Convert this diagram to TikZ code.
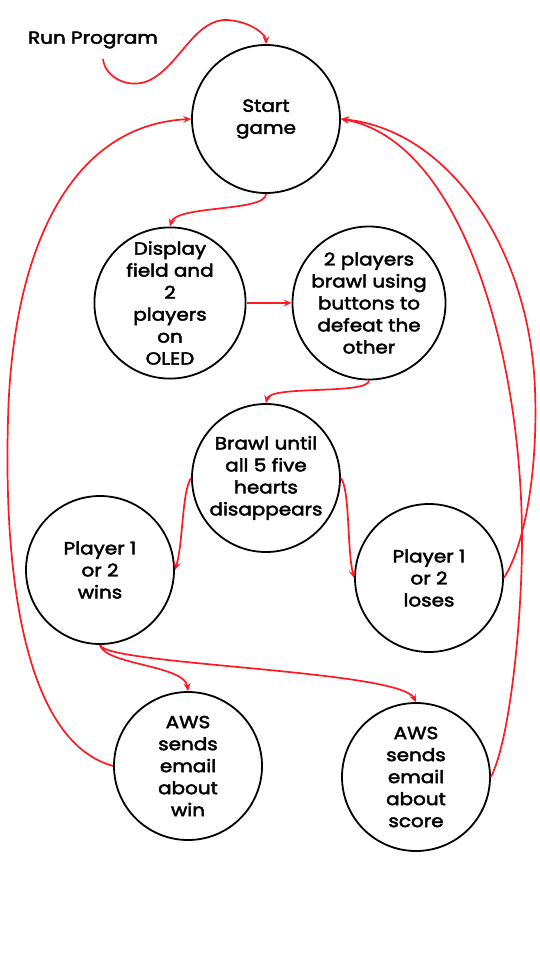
\documentclass[tikz,border=0pt]{standalone}
\usepackage{fontspec}
\setmainfont{Poppins}
\newfontfamily\diagfont{Poppins}[FakeStretch=1.14, FakeBold=2.6]
\usetikzlibrary{arrows.meta}
\definecolor{edgered}{RGB}{255,25,35}
\tikzset{
  state/.style={circle, draw=black, line width=1.8pt, minimum size=148pt, inner sep=0pt,
    align=center, font=\diagfont\fontsize{17.5}{22}\selectfont},
  flow/.style={draw=edgered, line width=1.7pt, -{Stealth[length=8pt,width=7pt,inset=3pt]}},
}
\begin{document}
\begin{tikzpicture}[x=1pt,y=-1pt]
\useasboundingbox (0,0) rectangle (540,960);
\fill[white] (0,0) rectangle (540,960);
\node[font=\diagfont\fontsize{17.5}{22}\selectfont] (run) at (93,40) {Run Program};
\coordinate (runfoot) at (103,59);
\node[state] (start) at (266,119) {Start\\game};
\node[state] (disp) at (170,303) {Display\\field and\\2\\players\\on\\OLED};
\node[state] (fight) at (369,303) {2 players\\brawl using\\buttons to\\defeat the\\other};
\node[state] (until) at (266,478) {Brawl until\\all 5 five\\hearts\\disappears};
\node[state] (wins) at (100,570) {Player 1\\or 2\\wins};
\node[state] (loses) at (429,578) {Player 1\\or 2\\loses};
\node[state] (awswin) at (188,766) {AWS\\sends\\email\\about\\win};
\node[state] (awsscore) at (416,777) {AWS\\sends\\email\\about\\score};

\draw[flow] (runfoot) .. controls (105,78) and (130,90) .. (150,80)
  .. controls (180,65) and (195,18) .. (228,20)
  .. controls (252,22) and (266,35) .. (start.north);
\draw[flow] (start.south) .. controls (266,212) and (176,205) .. (disp.north);
\draw[flow] (disp.east) -- (fight.west);
\draw[flow] (fight.south) .. controls (369,395) and (270,385) .. (until.north);
\draw[flow] (until.west) .. controls (182,490) and (183,545) .. (wins.east);
\draw[flow] (until.east) .. controls (350,490) and (347,550) .. (loses.west);
\draw[flow] (wins.south) .. controls (105,665) and (185,665) .. (awswin.north);
\draw[flow] (wins.south) .. controls (105,665) and (400,670) .. (awsscore.north);
\draw[flow] (awswin.west) .. controls (20,740) and (4,560) .. (8,420)
  .. controls (12,250) and (70,125) .. (start.west);
\draw[flow] (loses.east) .. controls (525,545) and (538,470) .. (535,390)
  .. controls (530,250) and (450,130) .. (start.east);
\draw[flow] (awsscore.east) .. controls (510,740) and (522,620) .. (522,540)
  .. controls (522,350) and (460,140) .. (start.east);
\end{tikzpicture}
\end{document}
